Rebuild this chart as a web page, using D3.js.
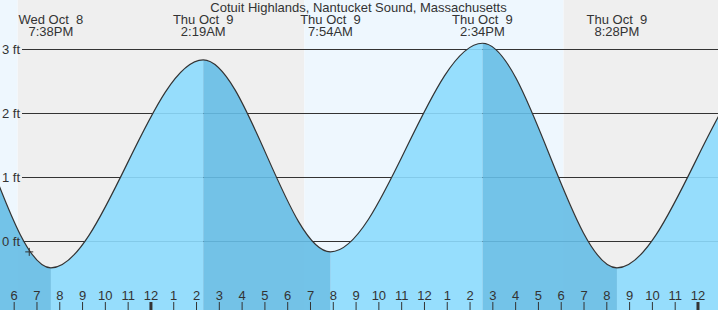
<!DOCTYPE html>
<html>
<head>
<meta charset="utf-8">
<script src="https://cdn.jsdelivr.net/npm/d3@7"></script>
<style>
  body { margin: 0; background: #fff; }
  svg { display: block; font-family: "Liberation Sans", Arial, sans-serif; font-size: 13px; }
  text { fill: #333; }
</style>
</head>
<body>
<svg width="718" height="310"></svg>
<script>
const title = 'Cotuit Highlands, Nantucket Sound, Massachusetts';

// high / low tide events (the first two and the last two lie outside the window)
const tideTimes = ['2025-10-08 07:31', '2025-10-08 14:13', '2025-10-08 19:38', '2025-10-09 02:19',
                   '2025-10-09 07:54', '2025-10-09 14:34', '2025-10-09 20:28', '2025-10-10 03:21',
                   '2025-10-10 08:57'];
const tideHeights = [-0.3, 2.95, -0.42, 2.83, -0.17, 3.09, -0.42, 2.9, -0.2];

// sunset, sunrise, sunset
const sunTimes = ['2025-10-08 18:10', '2025-10-09 06:45', '2025-10-09 18:07'];

const windowTimes = ['2025-10-08 17:24', '2025-10-10 00:54'];
const nowTime = '2025-10-08 18:41';
const nowHeight = -0.17;

const feetTicks = [0, 1, 2, 3];

const parse = d3.timeParse('%Y-%m-%d %H:%M');
const width = 718, height = 310;

const svg = d3.select('svg');

const x = d3.scaleTime().domain(windowTimes.map(parse)).range([0, width]);
const y = d3.scaleLinear().domain([0, 3]).range([241, 49]);

const tides = tideTimes.map((t, i) => ({ t: parse(t), h: tideHeights[i] }));
const sun = sunTimes.map(parse);

// day / night background
const dayBands = [[x.domain()[0], sun[0]], [sun[1], sun[2]]];
const nightBands = [[sun[0], sun[1]], [sun[2], x.domain()[1]]];

svg.selectAll('.night').data(nightBands).enter()
    .append('rect')
    .attr('x', d => x(d[0]))
    .attr('width', d => x(d[1]) - x(d[0]))
    .attr('y', 0).attr('height', height)
    .attr('fill', '#efefef');

svg.selectAll('.day').data(dayBands).enter()
    .append('rect')
    .attr('x', d => x(d[0]))
    .attr('width', d => x(d[1]) - x(d[0]))
    .attr('y', 0).attr('height', height)
    .attr('fill', '#eef7fe');

// grid lines
svg.selectAll('.grid').data(feetTicks).enter()
    .append('line')
    .attr('x1', 22).attr('x2', width)
    .attr('y1', d => y(d) + 0.5).attr('y2', d => y(d) + 0.5)
    .attr('stroke', '#333').attr('stroke-width', 1);

// rising / falling clip regions
const defs = svg.append('defs');
const segs = d3.pairs(tides).map(p => ({ a: p[0], b: p[1], rising: p[1].h > p[0].h }));

['rise', 'fall'].forEach(id => {
  defs.append('clipPath').attr('id', 'clip-' + id)
    .selectAll('rect').data(segs.filter(s => s.rising === (id === 'rise'))).enter()
    .append('rect')
    .attr('x', d => x(d.a.t))
    .attr('width', d => x(d.b.t) - x(d.a.t))
    .attr('y', 0).attr('height', height);
});

const area = d3.area()
    .x(d => x(d.t))
    .y0(height)
    .y1(d => y(d.h))
    .curve(d3.curveMonotoneX);

const line = d3.line()
    .x(d => x(d.t))
    .y(d => y(d.h))
    .curve(d3.curveMonotoneX);

svg.append('path').datum(tides)
    .attr('clip-path', 'url(#clip-rise)')
    .attr('d', area)
    .attr('fill', 'rgb(140,218,253)')
    .attr('fill-opacity', 0.9);

svg.append('path').datum(tides)
    .attr('clip-path', 'url(#clip-fall)')
    .attr('d', area)
    .attr('fill', 'rgb(101,188,229)')
    .attr('fill-opacity', 0.9);

svg.append('path').datum(tides)
    .attr('d', line)
    .attr('fill', 'none')
    .attr('stroke', '#333')
    .attr('stroke-width', 1.2);

// current time marker
const nx = x(parse(nowTime)), ny = y(nowHeight);
svg.append('path')
    .attr('d', `M${nx - 4},${ny}H${nx + 4}M${nx},${ny - 4}V${ny + 4}`)
    .attr('stroke', '#333').attr('stroke-width', 1);

// y labels
svg.selectAll('.ylab').data(feetTicks).enter()
    .append('text')
    .attr('x', 2)
    .attr('y', d => y(d) + 4.5)
    .text(d => d + ' ft');

// hour axis
const hours = d3.timeHour.range(d3.timeHour.ceil(x.domain()[0]), x.domain()[1]);
const axis = svg.append('g')
    .attr('transform', `translate(0,${height})`)
    .call(d3.axisTop(x).tickValues(hours).tickSize(8).tickPadding(2).tickFormat(d3.timeFormat('%-I')));
axis.select('.domain').remove();
axis.selectAll('.tick line')
    .attr('stroke', '#333')
    .attr('stroke-width', d => d.getHours() === 0 ? 3 : 1);
axis.selectAll('.tick text')
    .attr('font-family', '"Liberation Sans", Arial, sans-serif')
    .attr('font-size', 13)
    .attr('fill', '#333');

// title and tide labels
svg.append('text')
    .attr('x', 358.5).attr('y', 12)
    .attr('text-anchor', 'middle')
    .text(title);

const shown = tides.filter(d => d.t >= x.domain()[0] && d.t <= x.domain()[1]);
const fmtDay = d3.timeFormat('%a %b %e');
const fmtTime = d3.timeFormat('%-I:%M%p');

const lab = svg.selectAll('.tlab').data(shown).enter()
    .append('text')
    .attr('text-anchor', 'middle')
    .style('white-space', 'pre');
lab.append('tspan').attr('x', d => x(d.t)).attr('y', 24).text(d => fmtDay(d.t));
lab.append('tspan').attr('x', d => x(d.t)).attr('y', 36).text(d => fmtTime(d.t));
</script>
</body>
</html>
